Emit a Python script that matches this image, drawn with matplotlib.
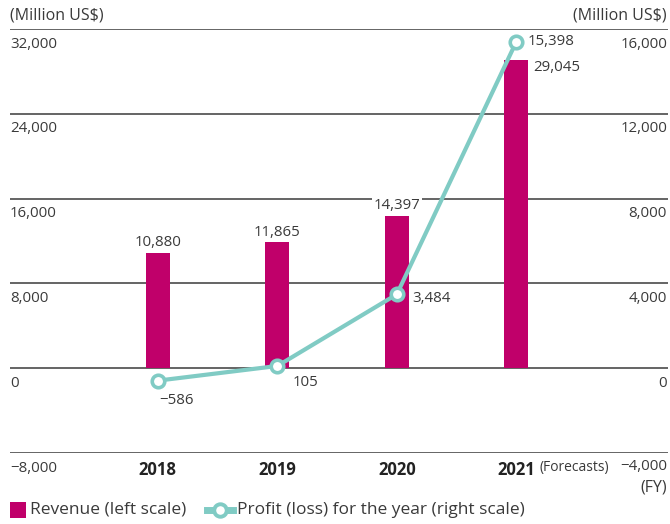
import matplotlib
matplotlib.use("Agg")
import matplotlib.pyplot as plt
from matplotlib.lines import Line2D
from matplotlib.patches import Rectangle
import matplotlib.transforms as mtransforms

plt.rcParams["font.family"] = ["Open Sans", "DejaVu Sans"]

years = ["2018", "2019", "2020", "2021"]
revenue = [10880, 11865, 14397, 29045]
profit = [-586, 105, 3484, 15398]
left_ticks = [-8000, 0, 8000, 16000, 24000, 32000]
right_ticks = [-4000, 0, 4000, 8000, 12000, 16000]

MAGENTA = "#C0006A"
TEAL = "#80CBC4"
TEXT = "#3a3a3a"
GRID = "#3a3a3a"
FS = 10.8      # numbers
FS_UNIT = 11.5  # unit captions
FS_LEG = 12.5   # legend

W, H = 670, 524
fig = plt.figure(figsize=(W / 100, H / 100), dpi=100)


def fx(px):
    return px / W


def fy(py):
    return 1 - py / H


def fmt(v):
    return f"{v:,}".replace("-", "\u2212")


ax = fig.add_axes([fx(10), fy(453), fx(668) - fx(10), fy(29) - fy(453)])
ax.set_ylim(left_ticks[0], left_ticks[-1])
ax.set_xlim(-1.238, 4.27)
for s in ax.spines.values():
    s.set_visible(False)
ax.set_yticks([])
ax.tick_params(axis="x", length=0, pad=6)
x = list(range(len(years)))
ax.set_xticks(x, years, fontsize=12, fontweight="bold", color="#222222")

# gridlines for the left scale
for t in left_ticks:
    ax.axhline(t, color=GRID, lw=1.1, zorder=1)

ax.bar(x, revenue, width=0.2, color=MAGENTA, zorder=2)

# left tick labels sit just under their lines
off_below = mtransforms.offset_copy(ax.get_yaxis_transform(), fig=fig, x=0, y=-15, units="dots")
for t in left_ticks:
    ax.text(0, t, fmt(t), transform=off_below, ha="left", va="center",
            fontsize=FS, color=TEXT)

# right axis for profit
ax2 = ax.twinx()
ax2.set_ylim(right_ticks[0], right_ticks[-1])
for s in ax2.spines.values():
    s.set_visible(False)
ax2.set_yticks([])
ax2.plot(x, profit, color=TEAL, lw=3, marker="o", ms=9, mfc="white", mec=TEAL, mew=2.6,
         zorder=3, solid_capstyle="round")

off_below_r = mtransforms.offset_copy(ax2.get_yaxis_transform(), fig=fig, x=-1, y=-15, units="dots")
for t in right_ticks[1:]:
    ax2.text(1, t, fmt(t), transform=off_below_r, ha="right", va="center",
             fontsize=FS, color=TEXT)
# bottom right label lines up with the year labels
fig.text(fx(667), fy(467), fmt(right_ticks[0]), ha="right", va="center", fontsize=FS, color=TEXT)
fig.text(fx(667), fy(488), "(FY)", ha="right", va="center", fontsize=FS_UNIT, color=TEXT)
fig.text(fx(540), fy(468), "(Forecasts)", ha="left", va="center", fontsize=10, color=TEXT)

fig.text(fx(10), fy(15), "(Million US$)", ha="left", va="center", fontsize=FS_UNIT, color=TEXT)
fig.text(fx(667), fy(15), "(Million US$)", ha="right", va="center", fontsize=FS_UNIT, color=TEXT)

# revenue value labels
for i, v in enumerate(revenue[:3]):
    bbox = dict(facecolor="white", edgecolor="none", pad=1) if i == 2 else None
    ax.annotate(fmt(v), (x[i], v), xytext=(0, 2), textcoords="offset points",
                ha="center", va="bottom", fontsize=FS, color=TEXT, bbox=bbox, zorder=4)
ax.annotate(fmt(revenue[3]), (x[3], revenue[3]), xytext=(12, -5), textcoords="offset points",
            ha="left", va="center", fontsize=FS, color=TEXT)

# profit value labels
profit_offsets = [(1, -14), (11, -12), (11, -3), (8, 0)]
for i, v in enumerate(profit):
    ax2.annotate(fmt(v), (x[i], v), xytext=profit_offsets[i],
                 textcoords="offset points", ha="left", va="center", fontsize=FS,
                 color=TEXT, zorder=5)

# legend
fig.patches.append(Rectangle((fx(10), fy(518)), fx(16), 16 / H, transform=fig.transFigure,
                             facecolor=MAGENTA, edgecolor="none"))
fig.text(fx(30), fy(510), "Revenue (left scale)", ha="left", va="center", fontsize=FS_LEG,
         color=TEXT)
fig.lines.append(Line2D([fx(207), fx(233)], [fy(510), fy(510)], transform=fig.transFigure,
                        color=TEAL, lw=5))
fig.lines.append(Line2D([fx(220)], [fy(510)], transform=fig.transFigure, marker="o", ms=9,
                        mfc="white", mec=TEAL, mew=2.8, lw=0))
fig.text(fx(237), fy(510), "Profit (loss) for the year (right scale)", ha="left", va="center",
         fontsize=FS_LEG, color=TEXT)

fig.savefig("out.png", dpi=100)
